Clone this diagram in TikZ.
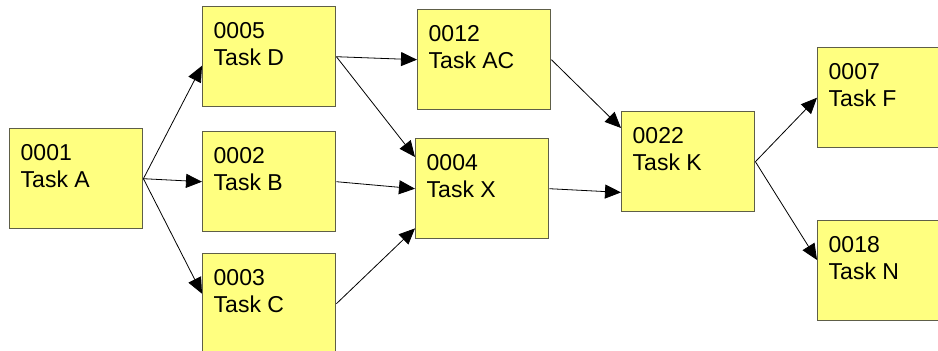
\documentclass[tikz,border=0pt]{standalone}
\usepackage{fontspec}
\setmainfont{Liberation Sans}
\usepackage{xcolor}
\usetikzlibrary{arrows.meta}
\definecolor{taskfill}{HTML}{FFFF80}
\definecolor{taskedge}{HTML}{5E5E48}
\newcommand{\task}[2]{\parbox[c][100pt][t]{133pt}{\hspace*{11pt}\rule{0pt}{32pt}#1\\\hspace*{11pt}#2}}

\begin{document}
\begin{tikzpicture}[
  x=1pt, y=-1pt,
  taskbox/.style={
    draw=taskedge, line width=1.4pt, fill=taskfill,
    minimum width=133pt, minimum height=100pt, inner sep=0pt,
    anchor=north west, font=\fontsize{23}{26.7}\selectfont},
  dep/.style={-{Triangle[length=16pt, width=14pt]}, line width=0.8pt, black},
]
  \useasboundingbox (0,0) rectangle (938,351);

  % ── Tasks ────────────────────────────────────────────────────────────
  \node[taskbox] (A)  at (9,128)   {\task{0001}{Task A}};
  \node[taskbox] (D)  at (202,6)   {\task{0005}{Task D}};
  \node[taskbox] (B)  at (202,131) {\task{0002}{Task B}};
  \node[taskbox] (C)  at (202,253) {\task{0003}{Task C}};
  \node[taskbox] (AC) at (417,9)   {\task{0012}{Task AC}};
  \node[taskbox] (X)  at (415,138) {\task{0004}{Task X}};
  \node[taskbox] (K)  at (621,111) {\task{0022}{Task K}};
  \node[taskbox] (F)  at (817,47)  {\task{0007}{Task F}};
  \node[taskbox] (N)  at (817,220) {\task{0018}{Task N}};

  % ── Dependencies ─────────────────────────────────────────────────────
  \draw[dep] (A.east) -- ([yshift=-9pt]D.west);
  \draw[dep] (A.east) -- (B.west);
  \draw[dep] (A.east) -- ([yshift=10pt]C.west);
  \draw[dep] (D.east) -- (AC.west);
  \draw[dep] (D.east) -- ([yshift=-19pt]X.north west);
  \draw[dep] (B.east) -- (X.west);
  \draw[dep] (C.east) -- ([yshift=11pt]X.south west);
  \draw[dep] (AC.east) -- ([yshift=-17pt]K.north west);
  \draw[dep] (X.east) -- ([yshift=20pt]K.south west);
  \draw[dep] (K.east) -- (F.west);
  \draw[dep] (K.east) -- ([yshift=-40pt]N.north west);
\end{tikzpicture}
\end{document}
